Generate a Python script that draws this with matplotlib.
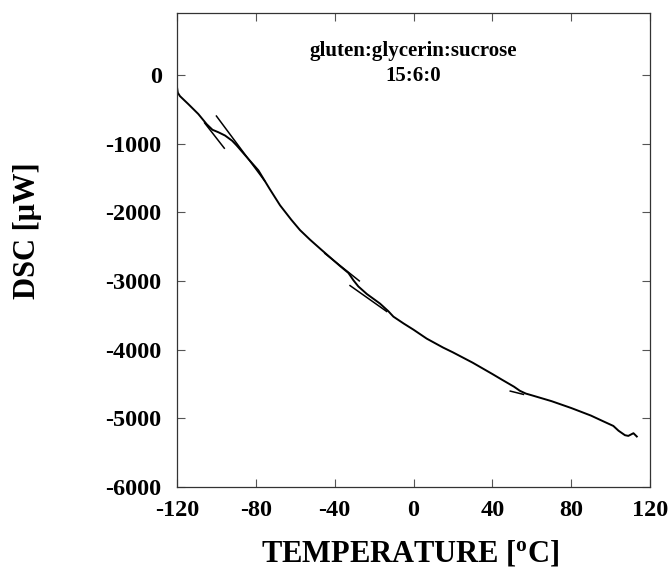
import matplotlib
matplotlib.use("Agg")
import matplotlib.pyplot as plt

plt.rcParams['font.family'] = ['Liberation Serif', 'DejaVu Serif']
plt.rcParams['font.weight'] = 'bold'
plt.rcParams['mathtext.fontset'] = 'custom'
plt.rcParams['mathtext.rm'] = 'Liberation Serif:bold'
plt.rcParams['mathtext.it'] = 'Liberation Serif:bold'
plt.rcParams['mathtext.bf'] = 'Liberation Serif:bold'

# main DSC trace (temperature in degC, heat flow in microW)
temp = [-120, -119.6, -118.5, -114.3, -109.2, -104.9, -102.0, -99.0, -95.6, -92.0,
        -89.7, -84.6, -78.7, -73.0, -67.7, -62.0, -57.6, -52.5, -47.0, -42.0,
        -37.0, -33.0, -30.5, -28.0, -23.7, -17.0, -12.8, -10.2, -5.0, 0.0,
        6.7, 15.0, 20.0, 30.0, 40.0, 45.0, 51.0, 54.0, 57.0, 60.0, 70.0,
        80.0, 90.0, 96.0, 101.4, 104.0, 107.3, 109.0, 111.6, 113.3]
dsc = [-180, -260, -310, -425, -570, -720, -800, -836, -884, -960,
       -1029, -1198, -1391, -1660, -1900, -2110, -2260, -2400, -2540, -2665,
       -2790, -2885, -2990, -3080, -3190, -3330, -3440, -3520, -3620, -3710,
       -3840, -3970, -4040, -4190, -4355, -4440, -4540, -4600, -4640, -4665, -4750,
       -4850, -4960, -5040, -5111, -5180, -5246, -5256, -5217, -5265]

# tangent construction lines
tan1_t = [-106, -96]
tan1_y = [-700, -1068]
tan2_t = [-100, -75.5]
tan2_y = [-600, -1545]
tan3_t = [-45, -27.5]
tan3_y = [-2600, -3000]
tan4_t = [-32.2, -13.6]
tan4_y = [-3068, -3445]
tan5_t = [49.1, 55.8]
tan5_y = [-4604, -4652]

xticks = [-120, -80, -40, 0, 40, 80, 120]
yticks = [0, -1000, -2000, -3000, -4000, -5000, -6000]

fig = plt.figure(figsize=(6.7, 5.73), dpi=100)
ax = fig.add_axes([177/670, 1-487/573, (650-177)/670, (487-13)/573])

ax.plot(temp, dsc, color='black', lw=1.4, solid_joinstyle='round')
for tt, yy in [(tan1_t, tan1_y), (tan2_t, tan2_y), (tan3_t, tan3_y),
               (tan4_t, tan4_y), (tan5_t, tan5_y)]:
    ax.plot(tt, yy, color='black', lw=1.1)

ax.set_xlim(-120, 120)
ax.set_ylim(-6000, 900)
ax.set_xticks(xticks)
ax.set_yticks(yticks)
ax.set_xticklabels([str(v) for v in xticks])
ax.set_yticklabels([str(v) for v in yticks])
ax.tick_params(direction='in', length=6, width=0.8, top=True, right=True,
               labelsize=17.5, color='#555555')
ax.tick_params(axis='x', pad=9)
ax.tick_params(axis='y', pad=11)
for lab in ax.get_xticklabels() + ax.get_yticklabels():
    lab.set_fontweight('bold')
for s in ax.spines.values():
    s.set_linewidth(0.9)
    s.set_color('#333333')

ax.text(0, 340, 'gluten:glycerin:sucrose', ha='center', va='center',
        fontsize=15, fontweight='bold')
ax.text(0, -10, '15:6:0', ha='center', va='center', fontsize=15, fontweight='bold')

fig.text(410/670, 1-553/573, r'TEMPERATURE [$^{\mathrm{o}}$C]', ha='center', va='center',
         fontsize=22, fontweight='bold')
fig.text(27/670, 1-231/573, r'DSC [μW]', ha='center', va='center', rotation=90,
         fontsize=22, fontweight='bold')

fig.savefig('out.png', dpi=100)
